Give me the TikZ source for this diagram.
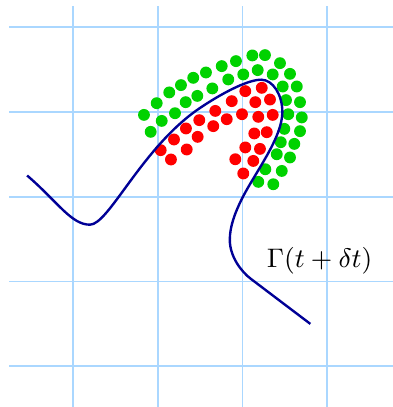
\documentclass[tikz,border=0pt]{standalone}
\usepackage{amsmath}
\usepackage{xcolor}
\usepackage{tikz}
\usetikzlibrary{
	arrows.meta,
	calc,
	positioning
}
\definecolor{GridBlue}{RGB}{170,215,255}
\definecolor{DotGreen}{RGB}{0,210,0}
\definecolor{DotRed}{RGB}{255,0,0}
\definecolor{CurveBlue}{RGB}{0,0,150}

\begin{document}
\begin{tikzpicture}[baseline=(current bounding box.north)]
		\useasboundingbox (0.14,-0.48) rectangle (4.765,4.32);
		% 网格
		\draw[GridBlue, line width=0.6pt, step=1] (0.25,-0.5) grid (4.8,4.25);
		
		\pgfmathsetmacro{\r}{0.07}
		
		% 外侧粒子 (绿)
		\foreach \x/\y in {1.838/2.965, 1.988/3.103, 2.136/3.230, 2.274/3.316, 2.419/3.402,
			2.569/3.465, 2.755/3.540, 2.923/3.599, 3.116/3.666, 3.265/3.670,
			3.442/3.575, 3.560/3.449, 3.640/3.300, 3.678/3.115, 3.699/2.935,
			3.678/2.773, 3.611/2.623, 3.560/2.463, 3.463/2.304, 3.363/2.147,
			1.917/2.765, 2.047/2.894, 2.204/2.985, 2.330/3.115, 2.467/3.189,
			2.644/3.277, 2.832/3.383, 3.009/3.442, 3.179/3.493, 3.356/3.442,
			3.474/3.300, 3.513/3.139, 3.540/2.973, 3.493/2.800, 3.451/2.643,
			3.404/2.501, 3.269/2.324, 3.186/2.175}
			\fill[DotGreen] (\x,\y) circle (\r);
		% 内侧粒子 (红)
		\foreach \x/\y in {2.035/2.549, 2.156/2.439, 2.192/2.675, 2.342/2.557, 2.333/2.805,
			2.471/2.706, 2.490/2.903, 2.655/2.832, 2.679/3.012, 2.814/2.914,
			2.873/3.127, 2.994/2.973, 3.033/3.245, 3.151/3.115, 3.227/3.284,
			3.324/3.146, 3.186/2.942, 3.356/2.965, 3.139/2.746, 3.286/2.761,
			3.033/2.581, 3.206/2.564, 2.915/2.442, 3.127/2.422, 3.009/2.274}
			\fill[DotRed] (\x,\y) circle (\r);
		
		% 界面 Gamma(t+dt)
		\coordinate (S) at (0.46,2.25);
		\coordinate (M) at (1.20,1.67);
		\coordinate (Q) at (2.46,3.02);
		\coordinate (T) at (3.22,3.38);
		\coordinate (R) at (3.47,3.00);
		\coordinate (U) at (3.00,1.99);
		\coordinate (L) at (2.85,1.49);
		\coordinate (V) at (3.10,1.03);
		\coordinate (E) at (3.80,0.50);
		\draw[CurveBlue, line width=0.8pt] (S) .. controls (0.82,1.94) and (0.98,1.67) .. (M)
			.. controls (1.42,1.67) and (1.80,2.55) .. (Q)
			.. controls (2.72,3.20) and (3.05,3.38) .. (T)
			.. controls (3.36,3.38) and (3.47,3.20) .. (R)
			.. controls (3.47,2.70) and (3.16,2.30) .. (U)
			.. controls (2.91,1.81) and (2.85,1.65) .. (L)
			.. controls (2.85,1.30) and (2.98,1.12) .. (V) -- (E);
		
		\node[font=\small] (gamma) at (3.91,1.25) {$\Gamma(t+\delta t)$};
	\end{tikzpicture}
\end{document}
